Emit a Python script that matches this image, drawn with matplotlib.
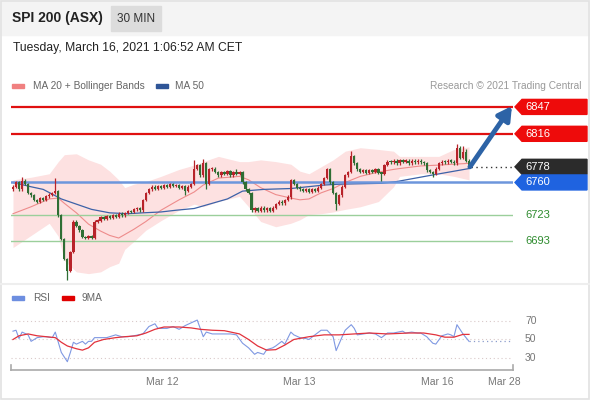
import numpy as np
import matplotlib.pyplot as plt
from matplotlib.patches import Rectangle, Polygon
from matplotlib.lines import Line2D
from matplotlib.transforms import blended_transform_factory

plt.rcParams['font.family'] = ['Liberation Sans', 'DejaVu Sans']

# Canvas size in pixels
W, H = 590, 400

# Candle closes (30 min bars), first open given separately
first_open = 6752
closes = [
    6755, 6760, 6752, 6762, 6758, 6748, 6745, 6740, 6738, 6742,
    6740, 6744, 6746, 6748, 6750, 6722, 6695, 6672, 6658, 6680,
    6715, 6710, 6705, 6697, 6696, 6698, 6696, 6715, 6716, 6720,
    6718, 6721, 6719, 6722, 6720, 6724, 6722, 6725, 6727, 6726,
    6729, 6730, 6728, 6740, 6748, 6752, 6755, 6753, 6756, 6754,
    6757, 6755, 6758, 6756, 6757, 6754, 6756, 6750, 6755, 6758,
    6776, 6780, 6768, 6782, 6758, 6775, 6776, 6772, 6768, 6772,
    6770, 6773, 6768, 6772, 6770, 6772, 6760, 6752, 6748, 6728,
    6730, 6727, 6731, 6728, 6730, 6727, 6731, 6735, 6738, 6736,
    6740, 6743, 6763, 6758, 6754, 6752, 6750, 6752, 6749, 6752,
    6750, 6754, 6758, 6765, 6775, 6760, 6748, 6735, 6745, 6755,
    6768, 6772, 6790, 6782, 6775, 6772, 6774, 6771, 6774, 6772,
    6775, 6771, 6770, 6780, 6784, 6783, 6785, 6782, 6786, 6784,
    6785, 6782, 6785, 6783, 6785, 6783, 6782, 6774, 6772, 6770,
    6776, 6782, 6784, 6783, 6785, 6784, 6782, 6800, 6788, 6795,
    6785, 6778,
]
# Wicks that stick out further than the usual small tail
high_marks = {3: 6766, 14: 6765, 60: 6786, 63: 6787, 74: 6776, 91: 6746,
              112: 6796, 147: 6804, 149: 6802, 150: 6798}
low_marks = {18: 6648, 57: 6745, 64: 6752, 107: 6728, 122: 6762, 139: 6766}

# MA20 + Bollinger Bands (candle index, upper, middle, lower)
bb_idx = [0, 6, 12, 15, 17, 21, 25, 29, 32, 35, 37, 40, 44, 49, 55, 60, 63, 68,
          75, 78, 82, 87, 92, 95, 98, 102, 106, 110, 115, 121, 126, 128, 135,
          141, 146, 151]
bb_up = [6763, 6766, 6770, 6784, 6792, 6793, 6786, 6781, 6773, 6763, 6754, 6758,
         6761, 6767, 6775, 6780, 6784, 6790, 6784, 6784, 6786, 6784, 6781, 6773,
         6770, 6778, 6786, 6796, 6800, 6798, 6796, 6790, 6790, 6790, 6798, 6801]
bb_mid = [6724, 6732, 6741, 6742, 6736, 6725, 6712, 6704, 6699, 6696, 6700, 6706,
          6715, 6728, 6740, 6749, 6757, 6765, 6767, 6763, 6754, 6746, 6742, 6740,
          6741, 6748, 6753, 6760, 6767, 6772, 6775, 6776, 6779, 6780, 6781, 6782]
bb_low = [6685, 6699, 6713, 6698, 6670, 6657, 6655, 6657, 6663, 6667, 6683, 6692,
          6705, 6716, 6728, 6735, 6732, 6738, 6744, 6732, 6715, 6709, 6713, 6717,
          6723, 6724, 6726, 6729, 6732, 6738, 6755, 6767, 6770, 6770, 6767, 6763]

# MA 50
ma50_idx = [0, 6, 10, 16, 21, 26, 32, 38, 43, 49, 54, 60, 65, 71, 76, 83, 92,
            103, 108, 122, 127, 138, 151]
ma50 = [6760, 6755, 6752, 6741, 6735, 6729, 6725, 6724, 6725, 6726, 6728, 6730,
        6735, 6741, 6750, 6752, 6753, 6757, 6758, 6759, 6761, 6768, 6776]

# Key levels
res_levels = [6847, 6816]
last_price = 6778
pivot = 6760
sup_levels = [6723, 6693]

# RSI and its 9 period average
rsi_idx = [0, 1, 2, 3, 5, 6, 8, 10, 11, 13, 14, 15, 16, 18, 19, 20, 21, 23, 24,
           25, 26, 27, 29, 31, 34, 36, 38, 40, 43, 45, 47, 48, 51, 53, 55, 57,
           59, 61, 63, 64, 66, 68, 70, 72, 74, 76, 78, 80, 81, 83, 84, 86, 87,
           89, 90, 92, 93, 95, 97, 98, 100, 102, 104, 106, 107, 109, 110, 112,
           113, 114, 116, 118, 120, 122, 124, 126, 129, 130, 132, 134, 135, 137,
           139, 140, 142, 144, 145, 146, 147, 149, 151]
rsi = [59, 60, 51, 58, 55, 48, 52, 53, 53, 52, 58, 47, 36, 26, 36, 47, 45, 48,
       45, 48, 48, 52, 52, 52, 55, 53, 53, 54, 56, 64, 67, 62, 62, 64, 61, 65,
       68, 71, 53, 58, 56, 56, 56, 56, 55, 46, 41, 34, 36, 34, 39, 41, 43, 48,
       45, 58, 55, 52, 51, 50, 55, 60, 60, 53, 38, 53, 60, 66, 62, 55, 56, 57,
       56, 52, 57, 57, 59, 57, 58, 57, 57, 53, 46, 45, 54, 56, 55, 53, 66, 56,
       48]
ma9_idx = [0, 2, 5, 8, 11, 14, 16, 18, 21, 23, 25, 27, 30, 34, 37, 41, 44, 47,
           50, 55, 59, 62, 66, 70, 75, 78, 81, 84, 87, 90, 93, 98, 103, 108, 113,
           118, 124, 131, 136, 140, 143, 146, 149, 151]
ma9 = [50, 54, 56, 54, 53, 52, 47, 43, 40, 38.5, 41, 47, 50, 52, 53, 54, 57, 61,
       63.5, 63.5, 62.5, 61, 60, 59.5, 56, 50, 43, 38.5, 39, 44, 50, 53, 55, 55,
       56, 57, 56, 57, 57, 55, 52.5, 52.5, 55.5, 55.5]

date_labels = ['Mar 12', 'Mar 13', 'Mar 16', 'Mar 28']
date_idx = [49.3, 94.7, 140.4, 162.6]


def fx(x):
    return x / W


def fy(y):
    return 1 - y / H


fig = plt.figure(figsize=(W / 100, H / 100), dpi=100)
fig.patch.set_facecolor('white')

# Header strip
fig.patches.append(Rectangle((0, fy(35)), 1, 35 / H, transform=fig.transFigure,
                             color='#f4f4f4', zorder=0))
fig.patches.append(Rectangle((fx(111), fy(31)), 50 / W, 25 / H,
                             transform=fig.transFigure, color='#dcdcdc', zorder=1))
fig.text(fx(12), fy(18), 'SPI 200 (ASX)', fontsize=10, fontweight='bold',
         color='#222222', va='center')
fig.text(fx(136), fy(19), '30 MIN', fontsize=8.5, color='#333333',
         ha='center', va='center')
fig.text(fx(13), fy(48), 'Tuesday, March 16, 2021 1:06:52 AM CET', fontsize=8.7,
         color='#222222', va='center')

# Legend row of the price panel
fig.patches.append(Rectangle((fx(12), fy(88)), 12 / W, 4 / H,
                             transform=fig.transFigure, color='#f08080'))
fig.text(fx(33), fy(86), 'MA 20 + Bollinger Bands', fontsize=7.3,
         color='#666666', va='center')
fig.patches.append(Rectangle((fx(156), fy(88)), 12 / W, 4 / H,
                             transform=fig.transFigure, color='#2f5597'))
fig.text(fx(175), fy(86), 'MA 50', fontsize=7.3, color='#666666', va='center')
fig.text(fx(581), fy(86), 'Research \u00a9 2021 Trading Central', fontsize=7.3,
         color='#999999', va='center', ha='right')

# ---- price panel ----
ax = fig.add_axes([fx(11), fy(283), 502 / W, 188 / H])
ax.set_xlim(-0.66, 165.56)
ax.set_ylim(6644.2, 6860.7)
ax.axis('off')

n = len(closes)
idx = np.arange(n)
c = np.array(closes, dtype=float)
o = np.concatenate([[first_open], c[:-1]])
hi = np.maximum(o, c) + 1.5
lo = np.minimum(o, c) - 1.5
for k, v in high_marks.items():
    hi[k] = v
for k, v in low_marks.items():
    lo[k] = v

ax.fill_between(bb_idx, bb_low, bb_up, color='#fde1e1', lw=0, zorder=1)
ax.plot(bb_idx, bb_mid, color='#ee8c8c', lw=0.8, zorder=2)
ax.plot(ma50_idx, ma50, color='#3d62a8', lw=0.9, zorder=2)

for lvl in res_levels:
    ax.axhline(lvl, color='#e01010', lw=1.6, zorder=3)
ax.axhline(pivot, color='#6d96dc', lw=1.8, zorder=3)
for lvl in sup_levels:
    ax.axhline(lvl, color='#9bcf9b', lw=1.0, zorder=3)
ax.plot([n - 1 + 0.6, 165.56], [last_price, last_price], color='#333333',
        lw=1.0, ls=(0, (1, 2.5)), zorder=3)

up = c >= o
cols = np.where(up, '#b8232a', '#2f6e34')
ax.vlines(idx, lo, hi, colors=cols, lw=0.9, zorder=4)
ax.bar(idx, np.maximum(np.abs(c - o), 1.6), bottom=np.minimum(o, c), width=0.75,
       color=cols, lw=0, zorder=5)

ax.annotate('', xy=(165.2, 6848), xytext=(n - 1 + 0.3, last_price),
            arrowprops=dict(arrowstyle='-|>,head_width=0.45,head_length=0.8',
                            color='#2d63a6', lw=3.5, shrinkA=0, shrinkB=0),
            annotation_clip=False, zorder=6)

# Level tags on the right
to_fig = fig.transFigure.inverted()


def level_y(price):
    return to_fig.transform(ax.transData.transform((0, price)))[1]


def tag(price, color):
    yc = level_y(price)
    hh = 7.5 / H
    pts = [(fx(515), yc), (fx(522), yc + hh), (fx(587), yc + hh),
           (fx(587), yc - hh), (fx(522), yc - hh)]
    fig.patches.append(Polygon(pts, closed=True, transform=fig.transFigure,
                               color=color, zorder=5))
    fig.text(fx(525), yc, str(price), fontsize=8, color='white', va='center',
             zorder=6)


for lvl in res_levels:
    tag(lvl, '#ee0b0b')
tag(last_price, '#2b2b2b')
tag(pivot, '#1f63e0')
for lvl in sup_levels:
    fig.text(fx(525), level_y(lvl), str(lvl), fontsize=8, color='#2e8b2e',
             va='center')

# Panel separator
fig.lines.append(Line2D([0, 1], [fy(284), fy(284)], transform=fig.transFigure,
                        color='#eeeeee', lw=1.5))

# ---- RSI panel ----
fig.patches.append(Rectangle((fx(12), fy(300)), 12 / W, 4 / H,
                             transform=fig.transFigure, color='#6d8ee0'))
fig.text(fx(33), fy(298), 'RSI', fontsize=7.3, color='#666666', va='center')
fig.patches.append(Rectangle((fx(62), fy(300)), 12 / W, 4 / H,
                             transform=fig.transFigure, color='#e00000'))
fig.text(fx(82), fy(298), '9MA', fontsize=7.3, color='#666666', va='center')

ar = fig.add_axes([fx(11), fy(368), 502 / W, 56 / H])
ar.set_xlim(-0.66, 165.56)
ar.set_ylim(19.2, 79.7)
ar.axis('off')
for g in [70, 50, 30]:
    ar.axhline(g, color='#d9c9c9', lw=0.8, ls=(0, (1, 2.5)), zorder=1)
    fig.text(fx(525), to_fig.transform(ar.transData.transform((0, g)))[1],
             str(g), fontsize=7.5, color='#777777', va='center')
ar.plot(rsi_idx, rsi, color='#7f98e2', lw=0.8, zorder=3)
ar.plot(ma9_idx, ma9, color='#e2323c', lw=0.9, zorder=4)
ar.plot([rsi_idx[-1], 165.56], [rsi[-1], rsi[-1]], color='#8b9ccc', lw=0.9,
        ls=(0, (1, 2.5)), zorder=2)

# Time axis
fig.lines.append(Line2D([fx(11), fx(513)], [fy(370), fy(370)],
                        transform=fig.transFigure, color='#aaaaaa', lw=1.2))
for xe in [11, 513]:
    fig.lines.append(Line2D([fx(xe), fx(xe)], [fy(370), fy(365)],
                            transform=fig.transFigure, color='#aaaaaa', lw=1.2))
tx = blended_transform_factory(ar.transData, fig.transFigure)
for lab, pos in zip(date_labels, date_idx):
    ar.text(pos, fy(382), lab, transform=tx, fontsize=7.5, color='#777777',
            ha='center', va='center', clip_on=False)

# Outer frame
fig.patches.append(Rectangle((0.001, 0.002), 0.997, 0.996,
                             transform=fig.transFigure, fill=False,
                             edgecolor='#e2e2e2', lw=1.2))

fig.savefig('out.png', dpi=100)
